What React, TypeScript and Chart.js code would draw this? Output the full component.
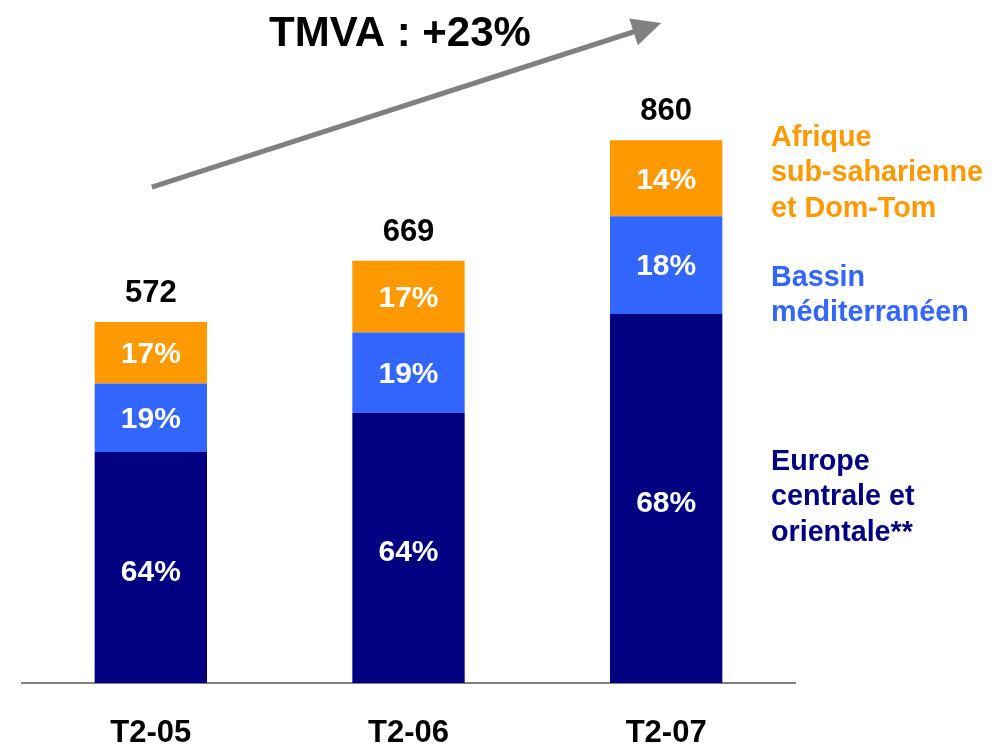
import React, { useEffect, useRef } from "react";
import { Chart, registerables } from "chart.js";

Chart.register(...registerables);

const categories = ["T2-05", "T2-06", "T2-07"];
const totals = [572, 669, 860];
const europePct = [64, 64, 68];
const bassinPct = [19, 19, 18];
const afriquePct = [17, 17, 14];
const seriesNames = ["Europe centrale et orientale**", "Bassin méditerranéen", "Afrique sub-saharienne et Dom-Tom"];
const legendLines = [
  ["Afrique", "sub-saharienne", "et Dom-Tom"],
  ["Bassin", "méditerranéen"],
  ["Europe", "centrale et", "orientale**"],
];
const titleText = "TMVA : +23%";

const NAVY = "#000080";
const BLUE = "#3366FF";
const ORANGE = "#FF9900";
const FONT = "'Liberation Sans', Arial, sans-serif";

const toValues = (pcts: number[]) => pcts.map((p, i) => (totals[i] * p) / 100);

export default function App() {
  const ref = useRef<HTMLCanvasElement>(null);
  useEffect(() => {
    const canvas = ref.current!;
    const pcts = [europePct, bassinPct, afriquePct];
    const overlay = {
      id: "overlay",
      afterDatasetsDraw(chart: any) {
        const ctx = chart.ctx as CanvasRenderingContext2D;
        const xs = chart.scales.x;
        const ys = chart.scales.y;
        ctx.save();
        // segment labels
        ctx.textAlign = "center";
        ctx.textBaseline = "middle";
        ctx.fillStyle = "#FFFFFF";
        ctx.font = `bold 30px ${FONT}`;
        pcts.forEach((arr, di) => {
          const meta = chart.getDatasetMeta(di);
          meta.data.forEach((el: any, i: number) => {
            const off = di === 0 ? 5 : 2;
            ctx.fillText(`${arr[i]}%`, el.x, (el.y + el.base) / 2 + off);
          });
        });
        // totals
        ctx.fillStyle = "#000000";
        ctx.font = `bold 31px ${FONT}`;
        ctx.textBaseline = "bottom";
        const top = chart.getDatasetMeta(2);
        top.data.forEach((el: any, i: number) => {
          ctx.fillText(String(totals[i]), el.x, el.y - 13);
        });
        // title
        ctx.font = `bold 42px ${FONT}`;
        ctx.textBaseline = "middle";
        ctx.fillText(titleText, 400, 34);
        // arrow
        const x0 = xs.getPixelForValue(0) + 1;
        const y0 = ys.getPixelForValue(786);
        const x1 = xs.getPixelForValue(2) - 5;
        const y1 = ys.getPixelForValue(1046);
        const ang = Math.atan2(y1 - y0, x1 - x0);
        const headLen = 29;
        const halfW = 14;
        const bx = x1 - headLen * Math.cos(ang);
        const by = y1 - headLen * Math.sin(ang);
        ctx.strokeStyle = "#808080";
        ctx.fillStyle = "#808080";
        ctx.lineWidth = 5;
        ctx.beginPath();
        ctx.moveTo(x0, y0);
        ctx.lineTo(bx + 2 * Math.cos(ang), by + 2 * Math.sin(ang));
        ctx.stroke();
        ctx.beginPath();
        ctx.moveTo(x1, y1);
        ctx.lineTo(bx + halfW * Math.sin(ang), by - halfW * Math.cos(ang));
        ctx.lineTo(bx - halfW * Math.sin(ang), by + halfW * Math.cos(ang));
        ctx.closePath();
        ctx.fill();
        // legend text
        ctx.font = `bold 28.7px ${FONT}`;
        ctx.textAlign = "left";
        ctx.textBaseline = "middle";
        const colors = [ORANGE, BLUE, NAVY];
        const starts = [138, 278, 462];
        legendLines.forEach((lines, gi) => {
          ctx.fillStyle = colors[gi];
          lines.forEach((ln, li) => ctx.fillText(ln, 771, starts[gi] + li * 35.5));
        });
        ctx.restore();
      },
    };
    const chart = new Chart(canvas, {
      type: "bar",
      data: {
        labels: categories,
        datasets: [
          { label: seriesNames[0], data: toValues(europePct), backgroundColor: NAVY },
          { label: seriesNames[1], data: toValues(bassinPct), backgroundColor: BLUE },
          { label: seriesNames[2], data: toValues(afriquePct), backgroundColor: ORANGE },
        ],
      },
      options: {
        responsive: false,
        animation: false,
        layout: { padding: { left: 22, right: 211, top: 52, bottom: 0 } },
        datasets: { bar: { barPercentage: 0.436, categoryPercentage: 1 } },
        plugins: { legend: { display: false }, tooltip: { enabled: false } },
        scales: {
          x: {
            stacked: true,
            grid: { display: false, drawTicks: false },
            border: { display: true, color: "#808080", width: 2 },
            ticks: { color: "#000000", font: { family: FONT, size: 31, weight: "bold" }, padding: 32 },
            afterFit: (s: any) => { s.height = 61; },
          },
          y: { stacked: true, display: false, min: 0, max: 1000 },
        },
      },
      plugins: [overlay],
    } as any);
    return () => chart.destroy();
  }, []);
  return (
    <div style={{ position: "fixed", left: 0, top: 0, background: "#fff" }}>
      <canvas ref={ref} width={1006} height={744} style={{ display: "block" }} />
    </div>
  );
}
